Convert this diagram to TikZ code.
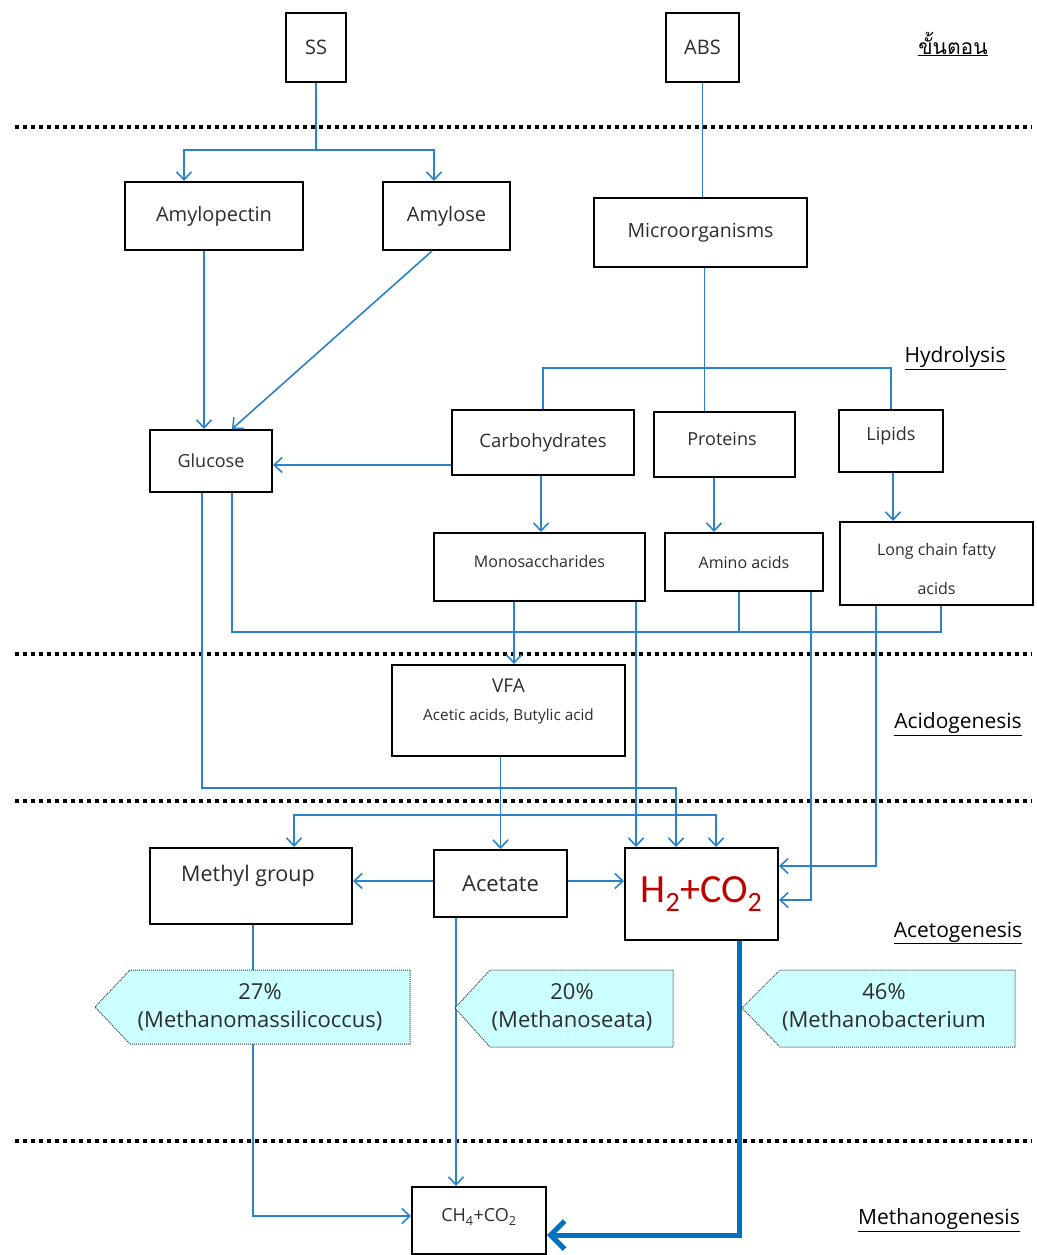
\documentclass[tikz,border=0pt]{standalone}
\usepackage{fontspec}
\setmainfont{Open Sans}
\newfontfamily\thaifont[Script=Thai]{Loma}
\newfontfamily\gasfont{Carlito}
\usetikzlibrary{arrows.meta}
\definecolor{flow}{RGB}{42,130,205}
\definecolor{flowdark}{RGB}{0,112,192}
\definecolor{tagfill}{RGB}{204,255,255}
\definecolor{redtxt}{RGB}{192,0,0}
\definecolor{txt}{RGB}{45,45,45}
\newcommand\fsz[1]{\fontsize{#1}{#1}\selectfont}

\begin{document}
\begin{tikzpicture}[x=1pt,y=-1pt,
  box/.style={draw=black, line width=2pt, fill=white, inner sep=0pt, align=center, text=txt},
  lbl/.style={inner sep=0pt, align=center, text=txt},
  ln/.style={draw=flow, line width=1.6pt},
  arr/.style={ln, -{Straight Barb[length=8pt,width=15pt]}},
  thickarr/.style={draw=flowdark, line width=5pt, -{Straight Barb[length=14pt,width=28pt]}},
  sep/.style={draw=black, line width=4pt, dash pattern=on 4pt off 4pt},
  stage/.style={text=black, inner sep=0pt, font=\fsz{21}},
  tag/.style={fill=tagfill, draw=black!75, line width=1pt, densely dotted},
  tagtext/.style={align=center, inner sep=0pt, text=txt, font=\fontsize{22}{28}\selectfont}]

\fill[white] (0,0) rectangle (1036,1255);
\useasboundingbox (0,0) rectangle (1036,1255);

% stage separators
\draw[sep] (15,127) -- (1032,127);
\draw[sep] (15,654) -- (1032,654);
\draw[sep] (15,801) -- (1032,801);
\draw[sep] (15,1141) -- (1032,1141);

% stage names
\node[stage, font=\thaifont\fontsize{21}{21}\selectfont] (st0) at (953,44) {\underline{ขั้นตอน}};
\node[stage] (st1) at (955,358) {\underline{Hydrolysis}};
\node[stage] (st2) at (958,724) {\underline{Acidogenesis}};
\node[stage] (st3) at (958,933) {\underline{Acetogenesis}};
\node[stage] (st4) at (939,1220) {\underline{Methanogenesis}};

% substrates
\node[box, minimum width=60pt, minimum height=69pt, font=\fsz{20}] (ss) at (316,47.5) {SS};
\node[box, minimum width=73pt, minimum height=69pt, font=\fsz{20}] (abs) at (702.5,47.5) {ABS};

% hydrolysis
\node[box, minimum width=178pt, minimum height=68pt, font=\fsz{20}] (amylopectin) at (214,216) {Amylopectin};
\node[box, minimum width=127pt, minimum height=68pt, font=\fsz{20}] (amylose) at (446.5,216) {Amylose};
\node[box, minimum width=213pt, minimum height=69pt, font=\fsz{19.5}] (micro) at (700.5,232.5) {Microorganisms};
\node[box, minimum width=122pt, minimum height=62pt, font=\fsz{18}] (glucose) at (211,461) {Glucose};
\node[box, minimum width=182pt, minimum height=65pt, font=\fsz{18.5}] (carbo) at (543,442.5) {Carbohydrates};
\node[box, minimum width=141pt, minimum height=65pt] (proteins) at (724.5,444.5) {};
\node[lbl, font=\fsz{18}] (proteinstxt) at (722,439) {Proteins};
\node[box, minimum width=104pt, minimum height=62pt] (lipids) at (891,441) {};
\node[lbl, font=\fsz{18}] (lipidstxt) at (891,436) {Lipids};
\node[box, minimum width=211pt, minimum height=68pt] (mono) at (539.5,567) {};
\node[lbl, font=\fsz{16}] (monotxt) at (539.5,561) {Monosaccharides};
\node[box, minimum width=158pt, minimum height=58pt, font=\fsz{16}] (amino) at (744,562) {Amino acids};
\node[box, minimum width=193pt, minimum height=83pt] (lcfa) at (936.5,563.5) {};
\node[lbl, font=\fontsize{16}{39}\selectfont] (lcfatxt) at (936.5,568.5) {Long chain fatty\\acids};

% acidogenesis
\node[box, minimum width=233pt, minimum height=91pt] (vfa) at (508.5,710.5) {};
\node[lbl, font=\fsz{19}] (vfatxt) at (508.5,686) {VFA};
\node[lbl, font=\fsz{15.3}] (vfasub) at (508.5,717) {Acetic acids, Butylic acid};

% acetogenesis
\node[box, minimum width=202pt, minimum height=76pt] (methyl) at (251,886) {};
\node[lbl, font=\fsz{21.5}] (methyltxt) at (248,876) {Methyl group};
\node[box, minimum width=133pt, minimum height=67pt, font=\fsz{22}] (acetate) at (500.5,883.5) {Acetate};
\node[box, minimum width=153pt, minimum height=92pt, font=\gasfont\fontsize{40}{40}\selectfont, text=redtxt] (h2co2) at (701.5,894) {H\textsubscript{2}+CO\textsubscript{2}};

% methanogenesis
\node[box, minimum width=134pt, minimum height=67pt] (ch4) at (479,1220.5) {};
\node[lbl, font=\fsz{18}] (ch4txt) at (479,1217) {CH\textsubscript{4}+CO\textsubscript{2}};

% SS branch
\coordinate (ssj) at (316,150);
\draw[ln] (ss.south) -- (ssj);
\draw[arr] (ssj) -| ([xshift=-30pt]amylopectin.north);
\draw[arr] (ssj) -| ([xshift=-12.5pt]amylose.north);

% ABS branch
\draw[ln] (abs.south) -- (abs.south |- micro.north);
\draw[ln] ([xshift=4pt]micro.south) -- ([xshift=4pt]micro.south |- proteins.north);
\coordinate (hyd) at (704.5,368);
\draw[ln] (carbo.north) |- (hyd) -| (lipids.north);

% towards glucose
\draw[arr] ([xshift=-10pt]amylopectin.south) -- ([xshift=-10pt]amylopectin.south |- glucose.north);
\draw[arr] ([xshift=-14.5pt]amylose.south) -- ([xshift=21pt]glucose.north);
\draw[arr] ([yshift=-22.5pt]carbo.west) -- ([yshift=-22.5pt]carbo.west -| glucose.east);

% monomers
\draw[arr] ([xshift=-2pt]carbo.south) -- ([xshift=-2pt]carbo.south |- mono.north);
\draw[arr] ([xshift=-10.5pt]proteins.south) -- ([xshift=-10.5pt]proteins.south |- amino.north);
\draw[arr] ([xshift=2pt]lipids.south) -- ([xshift=2pt]lipids.south |- lcfa.north);

% collecting line below the monomers
\draw[ln] ([xshift=21pt]glucose.south) -- ++(0,139) -| ([xshift=4.5pt]lcfa.south);
\draw[ln] ([xshift=-5pt]amino.south) -- ++(0,40);

% routes to H2 + CO2
\draw[arr] ([xshift=-9pt]glucose.south) -- ++(0,295) -| ([xshift=-25.5pt]h2co2.north);
\draw[arr] ([xshift=96.5pt]mono.south) -- ([xshift=96.5pt]mono.south |- h2co2.north);
\draw[arr] ([xshift=67pt]amino.south) |- ([yshift=-6pt]h2co2.east);
\draw[arr] ([xshift=-60.5pt]lcfa.south) |- ([yshift=28pt]h2co2.east);

% VFA
\draw[arr] ([xshift=-25.5pt]mono.south) -- ([xshift=-25.5pt]mono.south |- vfa.north);
\draw[arr] (vfa.south -| acetate.north) -- (acetate.north);
\path (acetate.north) ++(0,-34) coordinate (vj);
\draw[arr] (vj) -| ([xshift=43pt]methyl.north);
\draw[arr] (vj) -| ([xshift=14.5pt]h2co2.north);

% acetate
\draw[arr] ([yshift=2.5pt]acetate.west) -- ([yshift=2.5pt]acetate.west -| methyl.east);
\draw[arr] ([yshift=2.5pt]acetate.east) -- ([yshift=2.5pt]acetate.east -| h2co2.west);

% methane formation
\draw[arr] ([xshift=2pt]methyl.south) |- ([yshift=4.5pt]ch4.west);
\draw[arr] ([xshift=-44.5pt]acetate.south) -- ([xshift=-44.5pt]acetate.south |- ch4.north);
\draw[thickarr] ([xshift=37.5pt]h2co2.south) |- ([yshift=-14.5pt]ch4.east);

% methanogen shares
\draw[tag] (95,1007) -- (130,970) -- (410,970) -- (410,1044) -- (130,1044) -- cycle;
\node[tagtext] (tag1) at (260,1007) {27\%\\(Methanomassilicoccus)};
\draw[tag] (455,1008) -- (490,970) -- (673,970) -- (673,1047) -- (490,1047) -- cycle;
\node[tagtext] (tag2) at (572,1007) {20\%\\(Methanoseata)};
\draw[tag] (742,1008) -- (780,970) -- (1015,970) -- (1015,1047) -- (780,1047) -- cycle;
\node[tagtext] (tag3) at (884,1007) {46\%\\(Methanobacterium};

\end{tikzpicture}
\end{document}
